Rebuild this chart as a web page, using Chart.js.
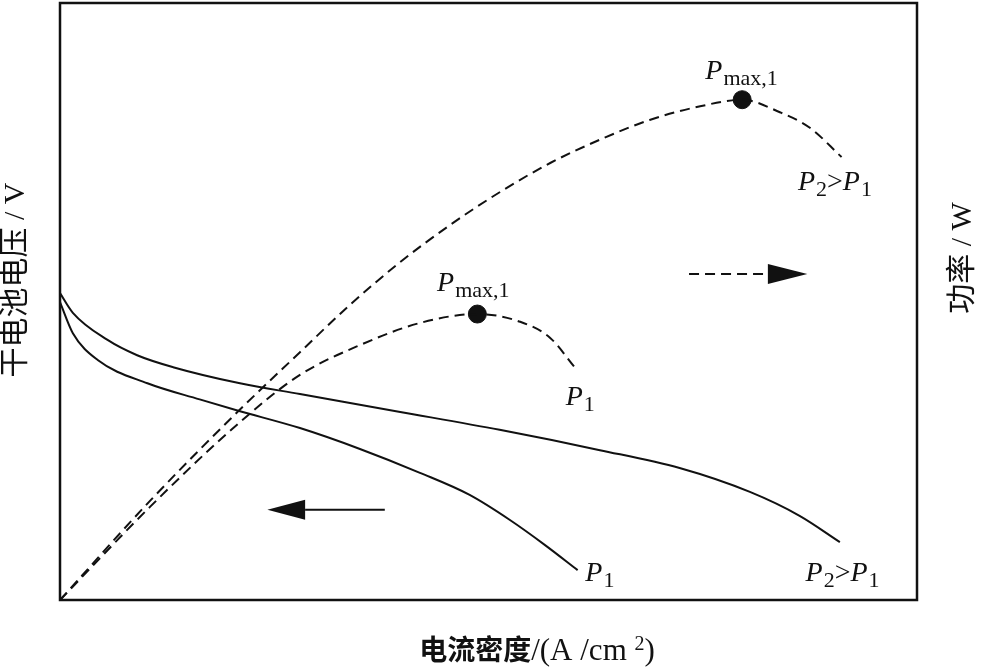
<!DOCTYPE html>
<html>
<head>
<meta charset="utf-8">
<script src="https://cdn.jsdelivr.net/npm/chart.js@4.4.0/dist/chart.umd.min.js"></script>
<style>
  html, body { margin: 0; padding: 0; background: #fff; }
  #contenedor { width: 984px; height: 668px; }
</style>
</head>
<body>
<div id="contenedor"><canvas id="grafico"></canvas></div>
<script>
// Curvas de voltaje (linea continua)
const voltajeP1X = [0, 1.5, 4.4, 10.2, 16.3, 20.8, 28.0, 35.0, 42.0, 47.8, 52.5, 56.6, 60.4];
const voltajeP1Y = [49.9, 44.7, 40.2, 36.3, 33.6, 31.7, 28.8, 25.3, 21.3, 17.6, 13.4, 9.2, 5.0];
const voltajeP2X = [0, 1.5, 5.5, 9.0, 13.2, 21.0, 28.0, 39.7, 51.3, 63.0, 72.3, 80.5, 86.3, 91.0];
const voltajeP2Y = [51.4, 48.1, 43.6, 41.0, 39.0, 36.3, 34.5, 31.5, 28.5, 25.1, 22.1, 18.1, 14.1, 9.7];

// Curvas de potencia (linea discontinua)
const potenciaP1X = [0, 10.5, 21.0, 28.0, 35.0, 42.0, 48.7, 53.7, 57.2, 60.1];
const potenciaP1Y = [0, 15.6, 29.8, 37.7, 42.7, 46.4, 47.9, 46.6, 43.9, 38.9];
const potenciaP2X = [0, 10.5, 21.0, 28.0, 33.8, 39.7, 45.5, 51.3, 57.2, 63.0, 68.8, 74.7, 79.6, 84.0, 87.5, 91.2];
const potenciaP2Y = [0, 16.6, 31.9, 41.5, 49.4, 56.6, 62.8, 68.3, 73.2, 77.1, 80.4, 82.7, 83.8, 81.7, 79.1, 74.2];

// Puntos de potencia maxima
const maximoX = [48.7, 79.6];
const maximoY = [47.9, 83.8];

function puntos(xs, ys) {
  return xs.map((x, i) => ({ x: x, y: ys[i] }));
}

const negro = '#111';

// Etiquetas y flechas (coordenadas en unidades de datos)
const etiquetas = [
  { x: 75.3, y: 87.3, partes: [{ t: 'P', it: true }, { t: 'max,1', sub: true }] },
  { x: 86.1, y: 68.7, partes: [{ t: 'P', it: true }, { t: '2', sub: true }, { t: '>' }, { t: 'P', it: true }, { t: '1', sub: true }] },
  { x: 44.0, y: 51.8, partes: [{ t: 'P', it: true }, { t: 'max,1', sub: true }] },
  { x: 59.0, y: 32.7, partes: [{ t: 'P', it: true }, { t: '1', sub: true }] },
  { x: 61.3, y: 3.2, partes: [{ t: 'P', it: true }, { t: '1', sub: true }] },
  { x: 87.0, y: 3.2, partes: [{ t: 'P', it: true }, { t: '2', sub: true }, { t: '>' }, { t: 'P', it: true }, { t: '1', sub: true }] }
];
const flechas = [
  { desde: 37.9, base: 28.6, punta: 24.2, y: 15.1, eje: 'y', guiones: false },
  { desde: 73.4, base: 82.6, punta: 87.2, y: 54.6, eje: 'y1', guiones: true }
];

function textoRico(ctx, x, y, partes) {
  let cx = x;
  partes.forEach(p => {
    ctx.font = (p.it ? 'italic ' : '') + (p.sub ? '22px' : '28px') + ' "Liberation Serif", serif';
    ctx.fillText(p.t, cx, y + (p.sub ? 6 : 0));
    cx += ctx.measureText(p.t).width + (p.it ? 1 : 0);
  });
}

const decoracion = {
  id: 'decoracion',
  afterDraw(chart) {
    const ctx = chart.ctx;
    const area = chart.chartArea;
    const sx = chart.scales.x;
    ctx.save();
    // Marco
    ctx.strokeStyle = negro;
    ctx.lineWidth = 2.5;
    ctx.strokeRect(area.left, area.top, area.right - area.left, area.bottom - area.top);

    // Flechas
    flechas.forEach(f => {
      const sy = chart.scales[f.eje];
      const py = sy.getPixelForValue(f.y);
      const x0 = sx.getPixelForValue(f.desde);
      const xb = sx.getPixelForValue(f.base);
      const xp = sx.getPixelForValue(f.punta);
      ctx.beginPath();
      ctx.lineWidth = 2;
      ctx.setLineDash(f.guiones ? [10, 6] : []);
      ctx.moveTo(x0, py);
      ctx.lineTo(xb, py);
      ctx.stroke();
      ctx.setLineDash([]);
      ctx.beginPath();
      ctx.fillStyle = negro;
      ctx.moveTo(xp, py);
      ctx.lineTo(xb, py - 10);
      ctx.lineTo(xb, py + 10);
      ctx.closePath();
      ctx.fill();
    });

    // Etiquetas de curvas
    ctx.fillStyle = negro;
    ctx.textBaseline = 'alphabetic';
    ctx.textAlign = 'left';
    etiquetas.forEach(e => {
      textoRico(ctx, sx.getPixelForValue(e.x), chart.scales.y.getPixelForValue(e.y), e.partes);
    });

    // Titulos de ejes
    ctx.textAlign = 'center';
    ctx.textBaseline = 'middle';
    ctx.font = '30px "Liberation Serif", "Noto Sans CJK SC", serif';
    ctx.save();
    ctx.translate(16, 280);
    ctx.rotate(-Math.PI / 2);
    ctx.fillText('干电池电压 / V', 0, 0);
    ctx.restore();
    ctx.save();
    ctx.translate(963, 258);
    ctx.rotate(-Math.PI / 2);
    ctx.fillText('功率 / W', 0, 0);
    ctx.restore();

    // Titulo eje x con superindice
    const partesX = [
      { t: '电流密度', f: 'bold 28px "Noto Sans CJK SC", sans-serif', dy: 0 },
      { t: '/(A /cm ', f: '31px "Liberation Serif", serif', dy: 0 },
      { t: '2', f: '20px "Liberation Serif", serif', dy: -10 },
      { t: ')', f: '31px "Liberation Serif", serif', dy: 0 }
    ];
    ctx.textAlign = 'left';
    ctx.textBaseline = 'alphabetic';
    let ancho = 0;
    partesX.forEach(p => { ctx.font = p.f; ancho += ctx.measureText(p.t).width; });
    let cx = 537 - ancho / 2;
    partesX.forEach(p => {
      ctx.font = p.f;
      ctx.fillText(p.t, cx, 660 + p.dy);
      cx += ctx.measureText(p.t).width;
    });
    ctx.restore();
  }
};

const lineaBase = {
  showLine: true,
  borderColor: negro,
  borderWidth: 2,
  pointRadius: 0,
  cubicInterpolationMode: 'monotone',
  fill: false
};

new Chart(document.getElementById('grafico').getContext('2d'), {
  type: 'scatter',
  data: {
    datasets: [
      Object.assign({}, lineaBase, { label: 'V P1', data: puntos(voltajeP1X, voltajeP1Y), yAxisID: 'y' }),
      Object.assign({}, lineaBase, { label: 'V P2>P1', data: puntos(voltajeP2X, voltajeP2Y), yAxisID: 'y' }),
      Object.assign({}, lineaBase, { label: 'W P1', data: puntos(potenciaP1X, potenciaP1Y), yAxisID: 'y1', borderDash: [10, 6] }),
      Object.assign({}, lineaBase, { label: 'W P2>P1', data: puntos(potenciaP2X, potenciaP2Y), yAxisID: 'y1', borderDash: [10, 6] }),
      {
        label: 'Pmax',
        data: puntos(maximoX, maximoY),
        yAxisID: 'y1',
        showLine: false,
        pointRadius: 9,
        pointBackgroundColor: negro,
        pointBorderColor: negro
      }
    ]
  },
  options: {
    responsive: true,
    maintainAspectRatio: false,
    animation: false,
    layout: { autoPadding: false, padding: { left: 60, right: 67, top: 3, bottom: 68 } },
    plugins: {
      legend: { display: false },
      tooltip: { enabled: false }
    },
    scales: {
      x: { type: 'linear', min: 0, max: 100, display: false },
      y: { type: 'linear', min: 0, max: 100, display: false },
      y1: { type: 'linear', min: 0, max: 100, display: false, position: 'right' }
    }
  },
  plugins: [decoracion]
});
</script>
</body>
</html>
